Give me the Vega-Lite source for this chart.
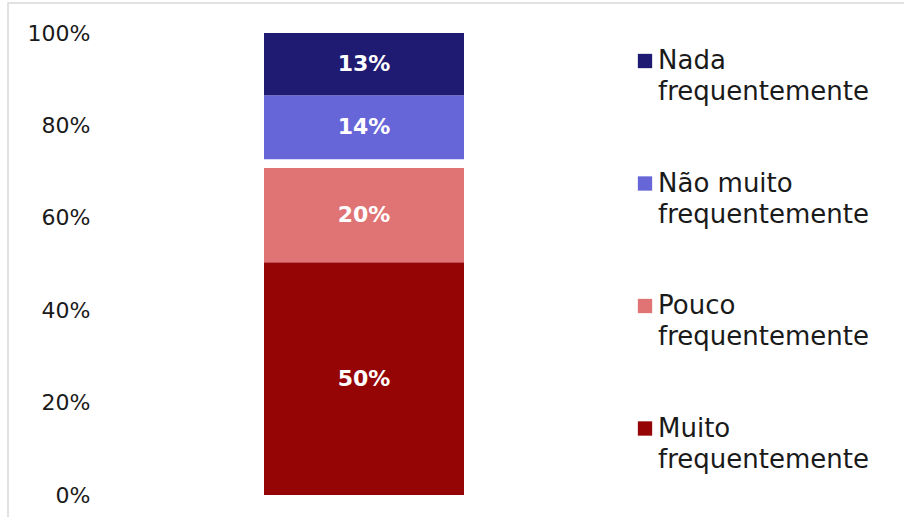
{
  "$schema": "https://vega.github.io/schema/vega-lite/v6.json",
  "autosize": {"type": "none"},
  "padding": {"left": 8, "top": 3, "right": 0, "bottom": 0},
  "width": 896,
  "height": 514,
  "background": "white",
  "config": {
    "view": {"stroke": "#d9d9d9", "strokeWidth": 1.5, "strokeDash": [896, 1410, 514, 10]},
    "font": "DejaVu Sans"
  },
  "data": {
    "values": [
      {"g": "A", "cat": "Muito frequentemente", "v": 50.4, "o": 1, "label": "50%"},
      {"g": "A", "cat": "Pouco frequentemente", "v": 20.4, "o": 2, "label": "20%"},
      {"g": "A", "cat": "gap", "v": 1.9, "o": 3, "label": ""},
      {"g": "A", "cat": "Não muito frequentemente", "v": 13.8, "o": 4, "label": "14%"},
      {"g": "A", "cat": "Nada frequentemente", "v": 13.5, "o": 5, "label": "13%"}
    ]
  },
  "transform": [
    {"stack": "v", "groupby": ["g"], "sort": [{"field": "o", "order": "ascending"}], "as": ["v0", "v1"]},
    {"calculate": "(datum.v0 + datum.v1) / 2", "as": "mid"}
  ],
  "encoding": {
    "x": {"field": "g", "type": "nominal", "axis": null,
          "scale": {"range": [256, 456], "paddingInner": 0, "paddingOuter": 0}}
  },
  "layer": [
    {
      "mark": {"type": "bar", "strokeWidth": 0},
      "encoding": {
        "y": {"field": "v0", "type": "quantitative",
              "scale": {"domain": [0, 100], "range": [492, 30], "nice": false},
              "axis": {"values": [0, 20, 40, 60, 80, 100], "labelExpr": "datum.value + '%'",
                       "domain": false, "ticks": false, "grid": false, "title": null,
                       "offset": -85, "labelPadding": 3, "labelFontSize": 22,
                       "labelColor": "#1a1a1a", "labelFont": "DejaVu Sans"}},
        "y2": {"field": "v1"},
        "color": {"field": "cat", "type": "nominal",
                  "scale": {"domain": ["Nada frequentemente", "Não muito frequentemente", "Pouco frequentemente", "Muito frequentemente", "gap"],
                            "range": ["#1f1b73", "#6766d9", "#e07474", "#950505", "#ffffff"]},
                  "legend": {"values": ["Nada frequentemente", "Não muito frequentemente", "Pouco frequentemente", "Muito frequentemente"],
                             "title": null, "orient": "none", "legendX": 624, "legendY": 45,
                             "padding": 0, "symbolType": "square", "symbolSize": 205,
                             "symbolStrokeWidth": 0, "labelOffset": 0,
                             "labelFontSize": 26, "labelLimit": 400,
                             "labelColor": "#1a1a1a", "labelFont": "DejaVu Sans",
                             "labelBaseline": "middle", "rowPadding": 65.5,
                             "encode": {"labels": {"update": {"lineHeight": {"value": 31}}}},
                             "labelExpr": "[replace(datum.label, ' frequentemente', ''), 'frequentemente']"}}
      }
    },
    {
      "transform": [{"filter": "datum.label != ''"}],
      "mark": {"type": "text", "color": "white", "fontWeight": "bold", "fontSize": 22, "font": "DejaVu Sans"},
      "encoding": {
        "y": {"field": "mid", "type": "quantitative"},
        "text": {"field": "label"}
      }
    }
  ]
}
